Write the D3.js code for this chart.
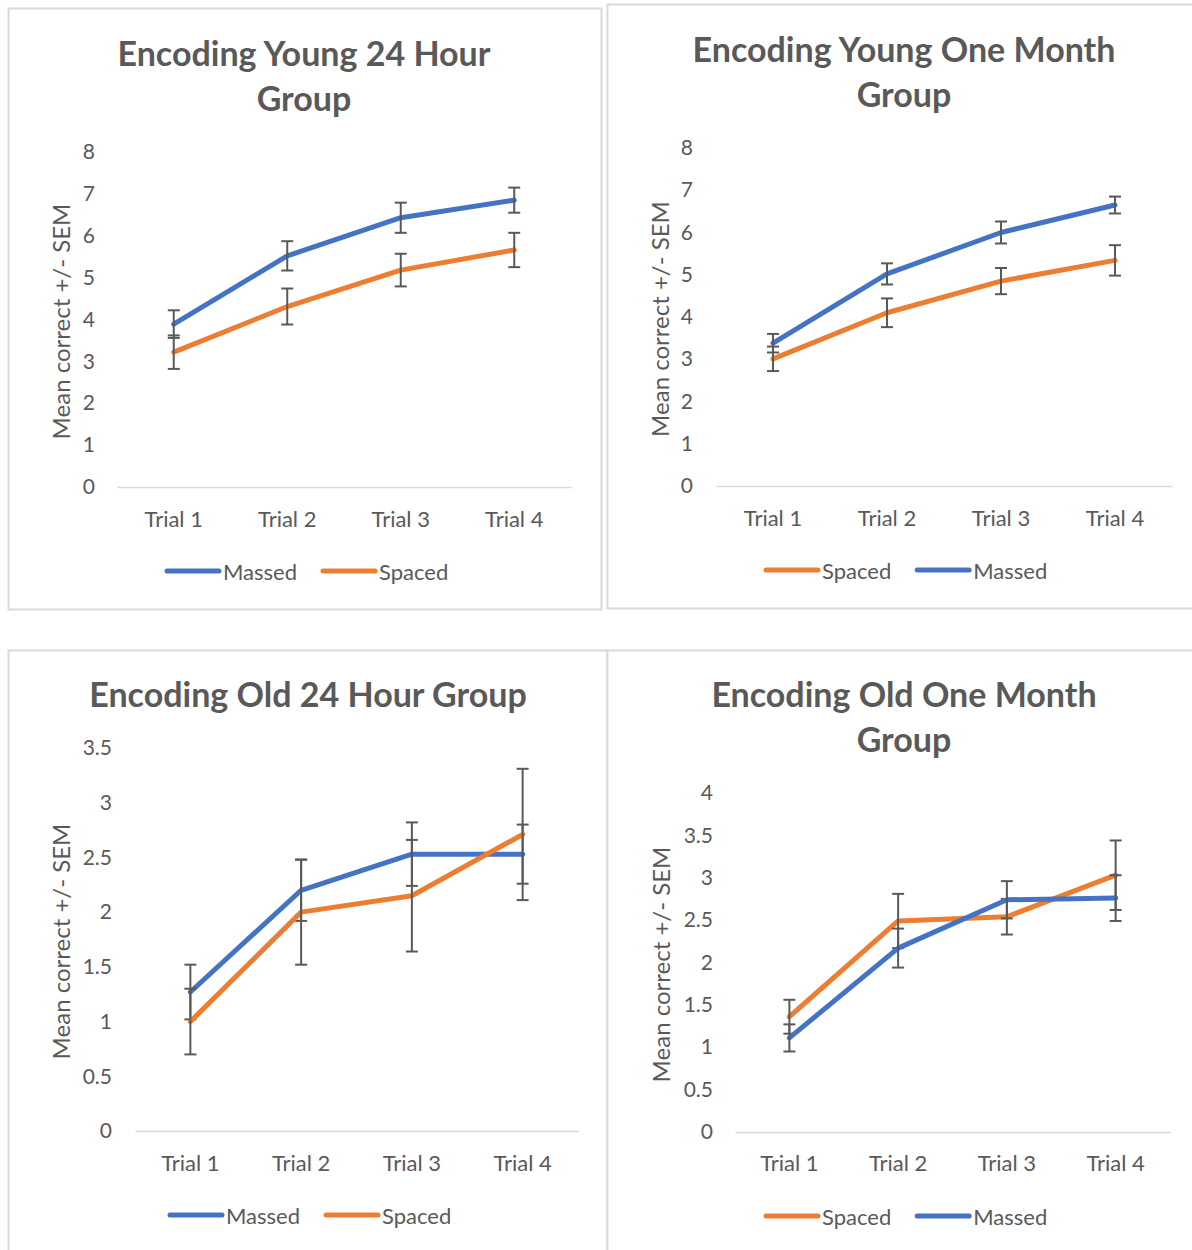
<!DOCTYPE html>
<html>
<head>
<meta charset="utf-8">
<script src="https://cdn.jsdelivr.net/npm/d3@7"></script>
<style>
  html, body { margin: 0; padding: 0; background: #fff; }
  svg { display: block; font-family: Lato, "Open Sans", sans-serif; }
</style>
</head>
<body>
<svg id="chart" width="1192" height="1250"></svg>
<script>
// Trial categories shared by all four panels
const trials = ["Trial 1", "Trial 2", "Trial 3", "Trial 4"];

// Young, 24 hour retention
const youngDayMassed = [3.89, 5.52, 6.43, 6.85];
const youngDayMassedSem = [0.33, 0.35, 0.36, 0.30];
const youngDaySpaced = [3.22, 4.31, 5.18, 5.66];
const youngDaySpacedSem = [0.40, 0.43, 0.39, 0.41];

// Young, one month retention
const youngMonthMassed = [3.38, 5.02, 6.00, 6.65];
const youngMonthMassedSem = [0.22, 0.25, 0.26, 0.20];
const youngMonthSpaced = [3.01, 4.10, 4.85, 5.34];
const youngMonthSpacedSem = [0.29, 0.34, 0.31, 0.36];

// Old, 24 hour retention
const oldDayMassed = [1.27, 2.20, 2.53, 2.53];
const oldDayMassedSem = [0.25, 0.28, 0.29, 0.27];
const oldDaySpaced = [1.00, 2.00, 2.15, 2.71];
const oldDaySpacedSem = [0.30, 0.48, 0.51, 0.60];

// Old, one month retention
const oldMonthMassed = [1.11, 2.17, 2.74, 2.76];
const oldMonthMassedSem = [0.16, 0.23, 0.22, 0.27];
const oldMonthSpaced = [1.36, 2.49, 2.54, 3.03];
const oldMonthSpacedSem = [0.20, 0.32, 0.21, 0.41];

// Y tick labels per panel
const youngTicks = [0, 1, 2, 3, 4, 5, 6, 7, 8];
const oldDayTicks = [0, 0.5, 1, 1.5, 2, 2.5, 3, 3.5];
const oldMonthTicks = [0, 0.5, 1, 1.5, 2, 2.5, 3, 3.5, 4];

const BLUE = "#4472C4", ORANGE = "#ED7D31", TEXT = "#595959", RULE = "#D9D9D9";
const yTitle = "Mean correct +/- SEM";
const FONT = "Lato, 'Open Sans', sans-serif";

const panels = [
  {
    title: ["Encoding Young 24 Hour", "Group"],
    series: [
      { name: "Massed", values: youngDayMassed, sem: youngDayMassedSem, color: BLUE },
      { name: "Spaced", values: youngDaySpaced, sem: youngDaySpacedSem, color: ORANGE }
    ],
    ticks: youngTicks,
    box: [8, 8, 601, 609], titleY: [52, 97], titleX: 304,
    plot: { x0: 117, x1: 571, y0: 487, y1: 152 },
    tickX: 95, catY: 518, legendY: 571, legendX: 165, yTitleX: 60
  },
  {
    title: ["Encoding Young One Month", "Group"],
    series: [
      { name: "Spaced", values: youngMonthSpaced, sem: youngMonthSpacedSem, color: ORANGE },
      { name: "Massed", values: youngMonthMassed, sem: youngMonthMassedSem, color: BLUE }
    ],
    ticks: youngTicks,
    box: [607, 4, 1200, 608], titleY: [48, 93], titleX: 904,
    plot: { x0: 716, x1: 1172, y0: 486, y1: 148 },
    tickX: 693, catY: 517, legendY: 570, legendX: 764, yTitleX: 659
  },
  {
    title: ["Encoding Old 24 Hour Group"],
    series: [
      { name: "Massed", values: oldDayMassed, sem: oldDayMassedSem, color: BLUE },
      { name: "Spaced", values: oldDaySpaced, sem: oldDaySpacedSem, color: ORANGE }
    ],
    ticks: oldDayTicks,
    box: [8, 650, 607, 1260], titleY: [693], titleX: 308,
    plot: { x0: 135, x1: 578, y0: 1131, y1: 748 },
    tickX: 112, catY: 1162, legendY: 1215, legendX: 168, yTitleX: 60
  },
  {
    title: ["Encoding Old One Month", "Group"],
    series: [
      { name: "Spaced", values: oldMonthSpaced, sem: oldMonthSpacedSem, color: ORANGE },
      { name: "Massed", values: oldMonthMassed, sem: oldMonthMassedSem, color: BLUE }
    ],
    ticks: oldMonthTicks,
    box: [607, 650, 1200, 1260], titleY: [693, 738], titleX: 904,
    plot: { x0: 735, x1: 1170, y0: 1132, y1: 793 },
    tickX: 713, catY: 1162, legendY: 1216, legendX: 764, yTitleX: 660
  }
];

const svg = d3.select("#chart");

panels.forEach(p => {
  const g = svg.append("g");
  const [bx0, by0, bx1, by1] = p.box;

  // panel frame
  g.append("rect")
    .attr("x", bx0 + 0.5).attr("y", by0 + 0.5)
    .attr("width", bx1 - bx0).attr("height", by1 - by0)
    .attr("fill", "#fff").attr("stroke", RULE).attr("stroke-width", 2);

  // title
  p.title.forEach((line, i) => {
    g.append("text")
      .attr("x", p.titleX).attr("y", p.titleY[i])
      .attr("text-anchor", "middle").attr("dominant-baseline", "central")
      .attr("font-size", 34).attr("font-weight", "bold").attr("fill", TEXT)
      .text(line);
  });

  const x = d3.scaleBand().domain(trials).range([p.plot.x0, p.plot.x1]);
  const y = d3.scaleLinear().domain([0, d3.max(p.ticks)]).range([p.plot.y0, p.plot.y1]);
  const cx = t => x(t) + x.bandwidth() / 2;

  // y tick labels
  const yAxis = d3.axisLeft(y).tickValues(p.ticks).tickSize(0).tickPadding(0)
    .tickFormat(d3.format("~g"));
  const ya = g.append("g").attr("transform", `translate(${p.tickX},0)`).call(yAxis);
  ya.select(".domain").remove();
  ya.selectAll("text").attr("font-size", 21).attr("fill", TEXT).attr("font-family", FONT);

  // x axis line and category labels
  const xAxis = d3.axisBottom(x).tickSize(0).tickPadding(0);
  const xa = g.append("g").attr("transform", `translate(0,${p.plot.y0})`).call(xAxis);
  xa.select(".domain").attr("stroke", RULE).attr("stroke-width", 1.5);
  xa.selectAll("text").attr("font-size", 22).attr("fill", TEXT).attr("font-family", FONT)
    .attr("dy", null).attr("y", p.catY - p.plot.y0).attr("dominant-baseline", "central");

  // y axis title
  g.append("text")
    .attr("transform", `translate(${p.yTitleX},${(p.plot.y0 + p.plot.y1) / 2 + 2}) rotate(-90)`)
    .attr("text-anchor", "middle").attr("dominant-baseline", "central")
    .attr("font-size", 24).attr("fill", TEXT).text(yTitle);

  // series lines with SEM error bars
  const line = d3.line().x((d, i) => cx(trials[i])).y(d => y(d));
  p.series.forEach(s => {
    g.append("path").datum(s.values)
      .attr("d", line).attr("fill", "none").attr("stroke", s.color)
      .attr("stroke-width", 5).attr("stroke-linejoin", "round").attr("stroke-linecap", "round");

    const eb = g.append("g").attr("stroke", TEXT).attr("stroke-width", 2);
    s.values.forEach((v, i) => {
      const xc = cx(trials[i]);
      const lo = y(v - s.sem[i]), hi = y(v + s.sem[i]);
      eb.append("line").attr("x1", xc).attr("x2", xc).attr("y1", lo).attr("y2", hi);
      eb.append("line").attr("x1", xc - 6).attr("x2", xc + 6).attr("y1", lo).attr("y2", lo);
      eb.append("line").attr("x1", xc - 6).attr("x2", xc + 6).attr("y1", hi).attr("y2", hi);
    });
  });

  // legend
  let lx = p.legendX;
  p.series.forEach(s => {
    g.append("line")
      .attr("x1", lx + 2).attr("x2", lx + 54).attr("y1", p.legendY).attr("y2", p.legendY)
      .attr("stroke", s.color).attr("stroke-width", 5).attr("stroke-linecap", "round");
    const t = g.append("text")
      .attr("x", lx + 58).attr("y", p.legendY)
      .attr("dominant-baseline", "central")
      .attr("font-size", 22).attr("fill", TEXT).text(s.name);
    lx += 58 + t.node().getComputedTextLength() + 24;
  });
});
</script>
</body>
</html>
